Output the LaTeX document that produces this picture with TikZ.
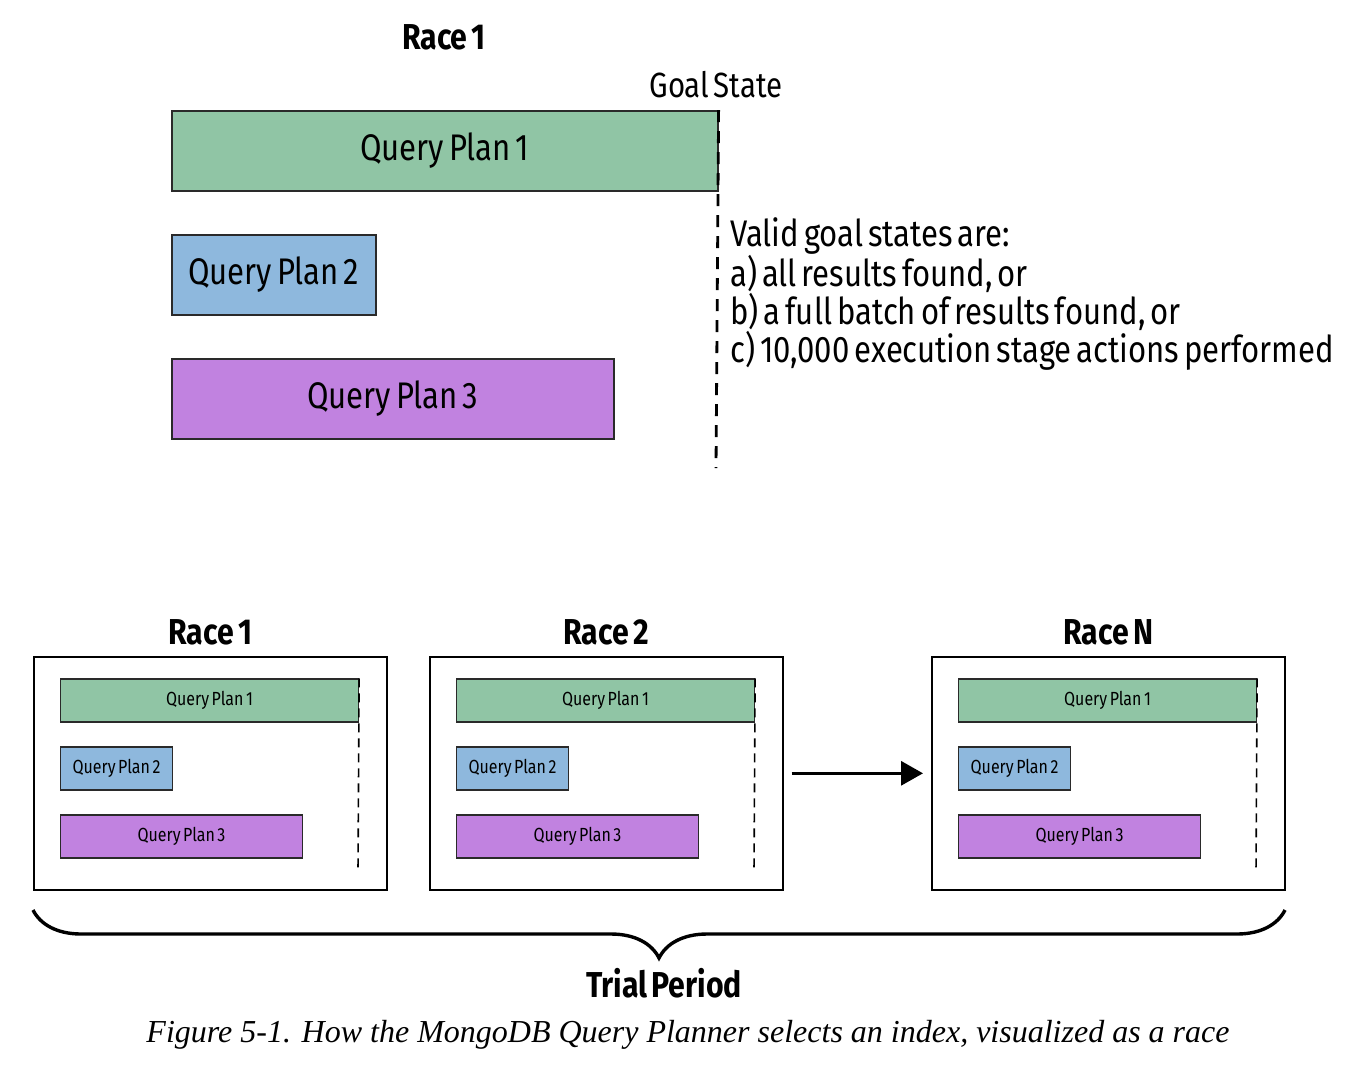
\documentclass[tikz,border=0pt]{standalone}
\usepackage{fontspec}
\setmainfont{Fira Sans}[FakeStretch=0.84, WordSpace=0.6]
\newfontfamily\capfont{Liberation Serif}
\usetikzlibrary{arrows.meta, decorations.pathreplacing}

\definecolor{qpgreen}{HTML}{90C5A5}
\definecolor{qpblue}{HTML}{8EB8DD}
\definecolor{qppurple}{HTML}{C182E0}
\definecolor{edge}{HTML}{2A2A2A}

\tikzset{
    bigplan/.style={draw=edge, line width=1.6pt, anchor=west, minimum height=80pt,
        inner sep=0pt, font=\fontsize{37}{39}\selectfont},
    plan/.style={draw=edge, line width=1.1pt, anchor=west, minimum height=43pt,
        inner sep=0pt, font=\fontsize{19}{20}\selectfont},
    racebox/.style={draw=black, line width=1.6pt, anchor=north west,
        minimum width=353pt, minimum height=233pt, inner sep=0pt},
    racetitle/.style={font=\fontsize{36}{38}\bfseries\selectfont},
    goal/.style={line width=2.8pt, dash pattern=on 12pt off 9pt},
    smallgoal/.style={line width=1.6pt, dash pattern=on 9pt off 6pt}
}

\begin{document}
\begin{tikzpicture}[x=1pt, y=-1pt]
        \useasboundingbox[fill=white] (0, 0) rectangle (1362, 1066);

        % the single race, large
        \node[racetitle] (top) at (444, 37) {Race 1};
        \node[font=\fontsize{35}{37}\selectfont] (goalname) at (716, 85) {Goal State};

        \node[bigplan, fill=qpgreen, minimum width=546pt] (qp1) at (171, 151) {Query Plan 1};
        \node[bigplan, fill=qpblue, minimum width=204pt] (qp2) at (171, 275) {Query Plan 2};
        \node[bigplan, fill=qppurple, minimum width=442pt] (qp3) at (171, 399) {Query Plan 3};

        \coordinate (goalend) at (716, 468);
        \draw[goal] (qp1.north east) -- (goalend);

        \node[anchor=north west, align=left, inner sep=0pt,
            font=\fontsize{37}{38}\selectfont] (valid) at (730, 217)
            {Valid goal states are:\\
             a) all results found, or\\
             b) a full batch of results found, or\\
             c) 10,000 execution stage actions performed};

        % races in the trial period
        \node[racebox] (race1) at (33, 656) {};
        \node[racetitle, anchor=south, yshift=7pt] at (race1.north) {Race 1};
        \node[plan, fill=qpgreen, minimum width=298pt] (r1p1) at (60, 700.5) {Query Plan 1};
        \node[plan, fill=qpblue, minimum width=112pt] (r1p2) at (60, 768.5) {Query Plan 2};
        \node[plan, fill=qppurple, minimum width=242pt] (r1p3) at (60, 836.5) {Query Plan 3};
        \coordinate (r1end) at (358, 872);
        \draw[smallgoal] (r1p1.north east) -- (r1end);

        \node[racebox] (race2) at (429, 656) {};
        \node[racetitle, anchor=south, yshift=7pt] at (race2.north) {Race 2};
        \node[plan, fill=qpgreen, minimum width=298pt] (r2p1) at (456, 700.5) {Query Plan 1};
        \node[plan, fill=qpblue, minimum width=112pt] (r2p2) at (456, 768.5) {Query Plan 2};
        \node[plan, fill=qppurple, minimum width=242pt] (r2p3) at (456, 836.5) {Query Plan 3};
        \coordinate (r2end) at (754, 872);
        \draw[smallgoal] (r2p1.north east) -- (r2end);

        \node[racebox] (raceN) at (931, 656) {};
        \node[racetitle, anchor=south, yshift=7pt] at (raceN.north) {Race N};
        \node[plan, fill=qpgreen, minimum width=298pt] (rNp1) at (958, 700.5) {Query Plan 1};
        \node[plan, fill=qpblue, minimum width=112pt] (rNp2) at (958, 768.5) {Query Plan 2};
        \node[plan, fill=qppurple, minimum width=242pt] (rNp3) at (958, 836.5) {Query Plan 3};
        \coordinate (rNend) at (1256, 872);
        \draw[smallgoal] (rNp1.north east) -- (rNend);

        \draw[line width=3.2pt, -{Triangle[length=22pt, width=24pt]}]
            ([xshift=8pt]race2.east) -- ([xshift=-8pt]raceN.west);

        % trial period
        \coordinate (bl) at (33, 910);
        \coordinate (br) at (1285, 910);
        \draw[line width=3.4pt, decorate, decoration={brace, mirror, amplitude=48pt}]
            (bl) -- (br);
        \node[racetitle] (trial) at (664, 983) {Trial Period};

        \node[font=\capfont\itshape\fontsize{32}{34}\selectfont] (caption) at (688, 1035)
            {Figure 5-1. How the MongoDB Query Planner selects an index, visualized as a race};
    \end{tikzpicture}
\end{document}
